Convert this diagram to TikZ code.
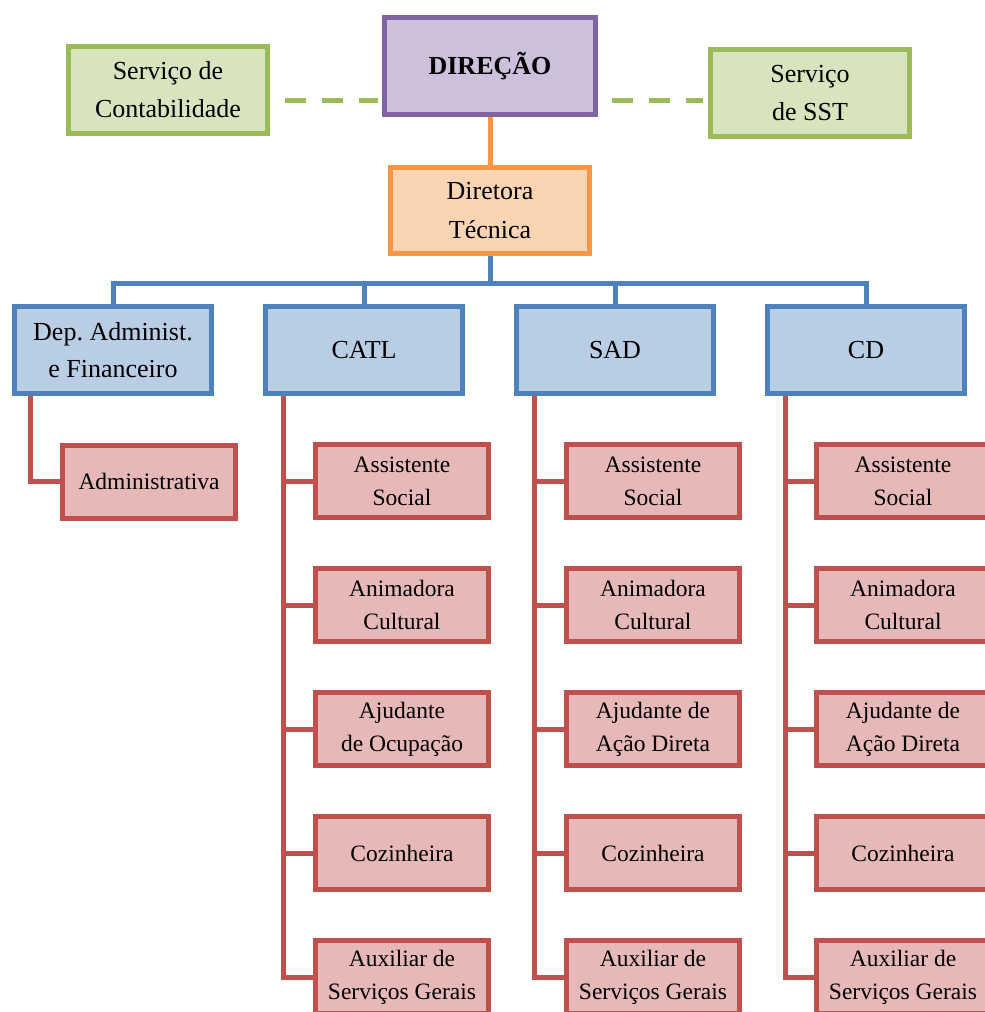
\documentclass[tikz,border=0pt]{standalone}
\usepackage{fontspec}
\setmainfont{Liberation Serif}
\usetikzlibrary{backgrounds}
\definecolor{dirline}{RGB}{128,100,162}
\definecolor{dirfill}{RGB}{204,192,218}
\definecolor{srvline}{RGB}{155,187,89}
\definecolor{srvfill}{RGB}{215,228,189}
\definecolor{tecline}{RGB}{247,150,70}
\definecolor{tecfill}{RGB}{251,212,180}
\definecolor{depline}{RGB}{79,129,189}
\definecolor{depfill}{RGB}{185,205,229}
\definecolor{staffline}{RGB}{192,80,77}
\definecolor{stafffill}{RGB}{230,184,183}

\tikzset{
  box/.style={draw, line width=5pt, align=center, inner sep=0pt, text=black},
  dirbox/.style={box, draw=dirline, fill=dirfill, minimum width=211pt, minimum height=97pt,
    font=\fontsize{26}{37}\selectfont\bfseries},
  srvbox/.style={box, draw=srvline, fill=srvfill, minimum width=199pt, minimum height=87pt,
    font=\fontsize{26}{38}\selectfont},
  tecbox/.style={box, draw=tecline, fill=tecfill, minimum width=199pt, minimum height=86pt,
    font=\fontsize{26}{39}\selectfont},
  depbox/.style={box, draw=depline, fill=depfill, minimum width=197pt, minimum height=87pt,
    font=\fontsize{26}{37}\selectfont},
  staffbox/.style={box, draw=staffline, fill=stafffill, minimum width=173pt, minimum height=73pt,
    font=\fontsize{23.5}{33}\selectfont},
  dashlink/.style={srvline, line width=5pt, dash pattern=on 21pt off 16pt},
  teclink/.style={tecline, line width=5pt},
  deplink/.style={depline, line width=5pt},
  stafflink/.style={staffline, line width=5pt}
}

\begin{document}
\begin{tikzpicture}[x=1pt, y=-1pt]
\useasboundingbox (0,0) rectangle (985,1012);
\clip (0,0) rectangle (985,1012);

% Top level
\node[dirbox] (dir) at (490,66) {DIREÇÃO};
\node[srvbox] (cont) at (168,90) {Serviço de\\Contabilidade};
\node[srvbox] (sst) at (810,93) {Serviço\\de SST};
\node[tecbox] (tec) at (490,210.5) {Diretora\\Técnica};

% Departments
\node[depbox] (dep) at (113,350) {Dep.\ Administ.\\e Financeiro};
\node[depbox] (catl) at (364,350) {CATL};
\node[depbox] (sad) at (615,350) {SAD};
\node[depbox] (cd) at (866,350) {CD};

\node[staffbox] (adm) at (149,481.5) {Administrativa};

% Staff of each service
\foreach \col/\x/\ajud in {catl/402/{Ajudante\\de Ocupação}, sad/653/{Ajudante de\\Ação Direta}, cd/903/{Ajudante de\\Ação Direta}} {
  \foreach \y/\lab [count=\i] in {481/{Assistente\\Social}, 605/{Animadora\\Cultural}, 729/\ajud, 853/Cozinheira, 977/{Auxiliar de\\Serviços Gerais}} {
    \node[staffbox] (\col-\i) at (\x,\y) {\lab};
    \begin{scope}[on background layer]
      \draw[stafflink] ([xshift=20.5pt]\col.south west) |- (\col-\i.west);
    \end{scope}
  }
}

\begin{scope}[on background layer]
% Links
\draw[dashlink] ([shift={(14.5,10)}]cont.east) -- ([shift={(-4,34)}]dir.west);
\draw[dashlink] ([shift={(13.5,34)}]dir.east) -- ([shift={(-5.5,7)}]sst.west);
\draw[teclink] (dir.south) -- (tec.north);
\foreach \d in {dep,catl,sad,cd}
  \draw[deplink] (tec.south) -- ++(0,27.5) -| (\d.north);
\draw[stafflink] ([xshift=18.5pt]dep.south west) |- (adm.west);
\end{scope}
\end{tikzpicture}
\end{document}
